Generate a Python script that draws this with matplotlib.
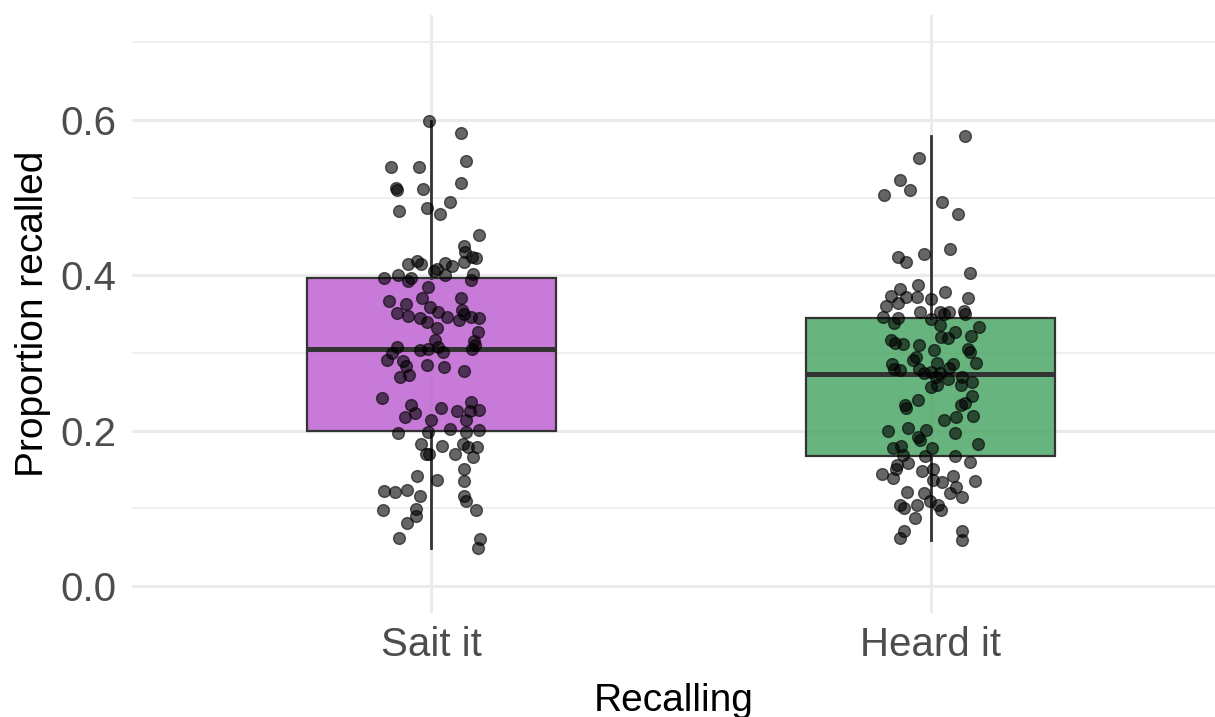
import matplotlib
matplotlib.use("Agg")
import matplotlib.pyplot as plt
import numpy as np

plt.rcParams['font.family'] = ['Liberation Sans', 'DejaVu Sans']

categories = ['Sait it', 'Heard it']
box_colors = ['#BA59CD', '#42A15E']

# box statistics (low whisker, Q1, median, Q3, high whisker)
sait_stats = [0.049, 0.200, 0.305, 0.397, 0.599]
heard_stats = [0.059, 0.167, 0.273, 0.345, 0.579]

# jittered points: proportion recalled and horizontal jitter (category units)
sait_y = [0.599, 0.583, 0.539, 0.539, 0.547, 0.512, 0.510, 0.511, 0.519, 0.483,
          0.487, 0.494, 0.479, 0.452, 0.437, 0.430, 0.422, 0.424, 0.417, 0.418,
          0.414, 0.414, 0.416, 0.412, 0.408, 0.406, 0.397, 0.400, 0.397, 0.393,
          0.400, 0.402, 0.394, 0.385,
          0.367, 0.363, 0.371, 0.371, 0.351, 0.348, 0.359, 0.353, 0.346, 0.355,
          0.350, 0.342, 0.346, 0.345, 0.345, 0.340, 0.332, 0.327, 0.317, 0.315,
          0.310, 0.308, 0.304, 0.305, 0.308, 0.301, 0.305, 0.300, 0.291, 0.290,
          0.283, 0.285, 0.282, 0.277, 0.269, 0.272, 0.242, 0.233, 0.229, 0.218,
          0.223, 0.225, 0.237, 0.225, 0.227, 0.214, 0.214, 0.197, 0.198, 0.202,
          0.198, 0.201,
          0.183, 0.180, 0.183, 0.179, 0.179, 0.170, 0.170, 0.170, 0.166, 0.151,
          0.142, 0.136, 0.135, 0.122, 0.121, 0.124, 0.116, 0.116, 0.109, 0.098,
          0.099, 0.090, 0.098, 0.081, 0.062, 0.060, 0.049]
sait_dx = [-0.004, 0.060, -0.080, -0.024, 0.070, -0.070, -0.068, -0.016, 0.060, -0.064,
           -0.008, 0.038, 0.018, 0.096, 0.066, 0.068, 0.090, 0.082, 0.066, -0.028,
           -0.046, -0.020, 0.028, 0.042, 0.012, 0.006, -0.094, -0.066, -0.040, -0.046,
           0.028, 0.084, 0.080, -0.006,
           -0.084, -0.050, -0.018, 0.060, -0.068, -0.046, -0.002, 0.014, 0.032, 0.062,
           0.066, 0.056, 0.080, 0.096, -0.022, -0.008, 0.012, 0.094, 0.008, 0.086,
           0.088, -0.068, -0.022, -0.006, 0.014, 0.024, 0.082, -0.078, -0.088, -0.056,
           -0.050, -0.008, 0.026, 0.066, -0.062, -0.044, -0.098, -0.040, 0.020, -0.052,
           -0.032, 0.052, 0.080, 0.078, 0.096, 0.000, 0.070, -0.066, -0.006, 0.038,
           0.070, 0.096,
           -0.020, 0.022, 0.064, 0.074, 0.092, -0.010, -0.004, 0.048, 0.084, 0.066,
           -0.028, 0.012, 0.066, -0.094, -0.072, -0.048, -0.022, 0.066, 0.070, -0.096,
           -0.030, -0.030, 0.090, -0.048, -0.064, 0.098, 0.094]

heard_y = [0.579, 0.551, 0.523, 0.510, 0.503, 0.494, 0.479, 0.434, 0.424, 0.417,
           0.427, 0.403, 0.388, 0.382, 0.379, 0.373, 0.372, 0.372, 0.369, 0.371,
           0.360, 0.364, 0.352, 0.344, 0.346, 0.345, 0.352, 0.350, 0.353, 0.354,
           0.350, 0.339, 0.336, 0.333, 0.327, 0.321, 0.319, 0.322, 0.317, 0.313,
           0.312, 0.310, 0.304, 0.305, 0.301, 0.295, 0.291, 0.286, 0.287, 0.286,
           0.281, 0.287, 0.279, 0.278, 0.279, 0.274, 0.276, 0.274, 0.269, 0.267,
           0.269, 0.263, 0.259, 0.256, 0.259, 0.245, 0.239, 0.233, 0.229, 0.233,
           0.235, 0.219, 0.218, 0.214, 0.200, 0.203, 0.201, 0.197, 0.192,
           0.183, 0.178, 0.180, 0.178, 0.188, 0.169, 0.167, 0.167, 0.160, 0.156,
           0.158, 0.151, 0.148, 0.151, 0.144, 0.139, 0.142, 0.136, 0.134, 0.127,
           0.135, 0.121, 0.120, 0.120, 0.115, 0.109, 0.104, 0.100, 0.104, 0.104,
           0.098, 0.088, 0.070, 0.062, 0.071, 0.059]
heard_dx = [0.070, -0.024, -0.062, -0.042, -0.094, 0.024, 0.056, 0.040, -0.066, -0.050,
            -0.014, 0.080, -0.026, -0.062, 0.030, -0.080, -0.050, -0.028, 0.000, 0.076,
            -0.090, -0.066, -0.022, 0.000, -0.096, -0.066, 0.020, 0.028, 0.038, 0.068,
            0.070, -0.074, 0.020, 0.098, 0.050, 0.022, 0.036, 0.082, -0.080, -0.072,
            -0.056, -0.024, 0.006, 0.076, 0.080, -0.030, -0.036, -0.078, 0.012, 0.046,
            0.038, 0.092, -0.074, -0.062, -0.024, -0.014, 0.000, 0.020, 0.010, 0.036,
            0.064, 0.084, 0.062, 0.000, 0.014, 0.084, -0.026, -0.052, -0.050, 0.062,
            0.070, 0.086, 0.052, 0.028, -0.086, -0.046, -0.010, 0.050, -0.026,
            0.096, -0.076, -0.060, 0.002, -0.022, -0.056, -0.012, 0.050, 0.080, -0.068,
            -0.046, -0.070, -0.018, 0.004, -0.098, -0.076, 0.046, 0.004, 0.024, 0.052,
            0.090, -0.048, -0.014, 0.040, 0.064, -0.002, -0.062, -0.054, -0.028, 0.016,
            0.022, -0.032, -0.054, -0.062, 0.064, 0.064]

fig = plt.figure(figsize=(12.15, 7.17), dpi=100)
ax = fig.add_axes([0.1086, 0.145, 0.8914, 0.834])

stats = []
for cat, st in zip(categories, [sait_stats, heard_stats]):
    stats.append(dict(label=cat, whislo=st[0], q1=st[1], med=st[2], q3=st[3],
                      whishi=st[4], fliers=[]))

bp = ax.bxp(stats, positions=[1, 2], widths=0.5, patch_artist=True,
            showcaps=False, showfliers=False, manage_ticks=False,
            boxprops=dict(edgecolor='#333333', linewidth=1.6),
            medianprops=dict(color='#333333', linewidth=3.6, solid_capstyle='butt'),
            whiskerprops=dict(color='#333333', linewidth=2.0))
for patch, c in zip(bp['boxes'], box_colors):
    patch.set_facecolor(matplotlib.colors.to_rgba(c, 0.8))
    patch.set_zorder(2)

ax.scatter(1 + np.array(sait_dx), sait_y, s=72, color='black', alpha=0.6,
           edgecolors='black', linewidths=1.0, zorder=4)
ax.scatter(2 + np.array(heard_dx), heard_y, s=72, color='black', alpha=0.6,
           edgecolors='black', linewidths=1.0, zorder=4)

grid_col = '#EBEBEB'
ax.set_axisbelow(True)
ax.set_ylim(-0.035, 0.735)
ax.set_xlim(0.4, 2.57)
ax.set_yticks([0.0, 0.2, 0.4, 0.6])
ax.set_yticks([0.1, 0.3, 0.5, 0.7], minor=True)
ax.set_yticklabels(['0.0', '0.2', '0.4', '0.6'])
ax.set_xticks([1, 2])
ax.set_xticklabels(categories)
ax.grid(axis='y', which='major', color=grid_col, lw=2.2)
ax.grid(axis='y', which='minor', color=grid_col, lw=1.1)
ax.grid(axis='x', which='major', color=grid_col, lw=2.2)
for s in ax.spines.values():
    s.set_visible(False)
ax.tick_params(which='both', length=0)
ax.tick_params(axis='y', labelsize=29, labelcolor='#4D4D4D', pad=11)
ax.tick_params(axis='x', labelsize=29, labelcolor='#4D4D4D', pad=9)

ax.set_ylabel('Proportion recalled', fontsize=28, color='black', labelpad=7)
ax.set_xlabel('Recalling', fontsize=28, color='black', labelpad=14)

fig.savefig('out.png', dpi=100)
